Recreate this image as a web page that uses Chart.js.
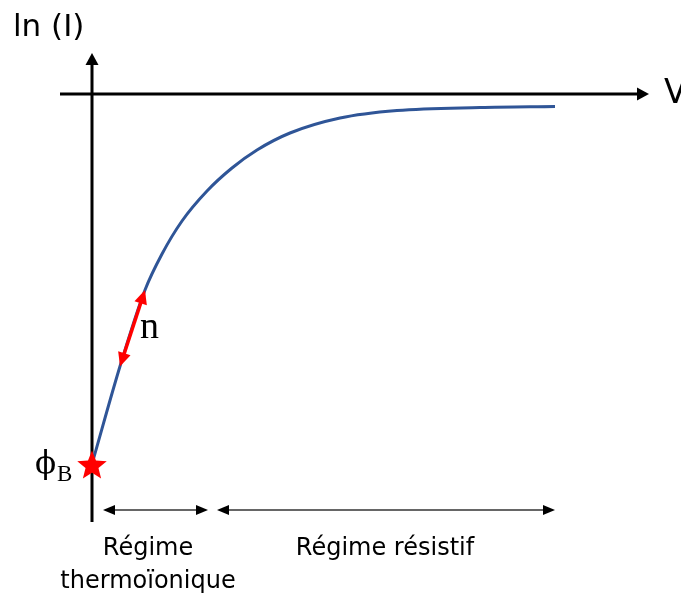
<!DOCTYPE html>
<html>
<head>
<meta charset="utf-8">
<script src="https://cdn.jsdelivr.net/npm/chart.js@4/dist/chart.umd.min.js"></script>
<style>
  html, body { margin: 0; padding: 0; background: #fff; }
  #wrap { width: 681px; height: 598px; }
</style>
</head>
<body>
<div id="wrap"><canvas id="courbe" width="681" height="598"></canvas></div>
<script>
const tensions = [0, 29, 53, 70, 90, 115, 140, 165, 198, 248, 305, 388, 463];
const lnCourant = [-370, -269, -196, -160, -127, -97, -74, -56, -39, -24, -16.5, -13.5, -12.5];

// Régimes : bornes en V et libellés
const regimeDebut = [11, 125];
const regimeFin = [116, 463];
const regimeLabels = [['Régime', 'thermoïonique'], ['Régime résistif']];

// Pente n : entre ces deux tensions
const penteV = [28, 53];

const bleu = '#2F5597';
const rouge = '#FF0000';

function fleche(ctx, x1, y1, x2, y2, long, larg, couleur) {
    // pointe en (x2, y2)
    const a = Math.atan2(y2 - y1, x2 - x1);
    ctx.save();
    ctx.fillStyle = couleur;
    ctx.beginPath();
    ctx.moveTo(x2, y2);
    ctx.lineTo(x2 - long * Math.cos(a) + larg * Math.sin(a), y2 - long * Math.sin(a) - larg * Math.cos(a));
    ctx.lineTo(x2 - long * Math.cos(a) - larg * Math.sin(a), y2 - long * Math.sin(a) + larg * Math.cos(a));
    ctx.closePath();
    ctx.fill();
    ctx.restore();
}

function trait(ctx, x1, y1, x2, y2, w, couleur) {
    ctx.save();
    ctx.strokeStyle = couleur;
    ctx.lineWidth = w;
    ctx.beginPath();
    ctx.moveTo(x1, y1);
    ctx.lineTo(x2, y2);
    ctx.stroke();
    ctx.restore();
}

function etoile(ctx, cx, cy, rExt, rInt, couleur) {
    ctx.save();
    ctx.fillStyle = couleur;
    ctx.beginPath();
    for (let i = 0; i < 10; i++) {
        const r = i % 2 === 0 ? rExt : rInt;
        const a = -Math.PI / 2 + i * Math.PI / 5;
        const px = cx + r * Math.cos(a), py = cy + r * Math.sin(a);
        if (i === 0) ctx.moveTo(px, py); else ctx.lineTo(px, py);
    }
    ctx.closePath();
    ctx.fill();
    ctx.restore();
}

function interpLn(v) {
    for (let i = 0; i < tensions.length - 1; i++) {
        if (v >= tensions[i] && v <= tensions[i + 1]) {
            const t = (v - tensions[i]) / (tensions[i + 1] - tensions[i]);
            return lnCourant[i] + t * (lnCourant[i + 1] - lnCourant[i]);
        }
    }
    return lnCourant[lnCourant.length - 1];
}

const axesPlugin = {
    id: 'axes',
    beforeDatasetsDraw(chart) {
        const ctx = chart.ctx, sx = chart.scales.x, sy = chart.scales.y;
        const x0 = sx.getPixelForValue(0), y0 = sy.getPixelForValue(0);
        // axe vertical ln(I)
        trait(ctx, x0, sy.getPixelForValue(-428), x0, sy.getPixelForValue(30), 3, '#000');
        fleche(ctx, x0, sy.getPixelForValue(-428), x0, sy.getPixelForValue(41), 12, 6.5, '#000');
        // axe horizontal V
        trait(ctx, sx.getPixelForValue(-32), y0, sx.getPixelForValue(546), y0, 3, '#000');
        fleche(ctx, sx.getPixelForValue(-32), y0, sx.getPixelForValue(557), y0, 12, 6.5, '#000');

        ctx.save();
        ctx.fillStyle = '#000';
        ctx.textBaseline = 'alphabetic';
        ctx.textAlign = 'left';
        ctx.font = '31px "DejaVu Sans", sans-serif';
        ctx.fillText('ln (I)', 13, 36);
        ctx.font = '33px "DejaVu Sans", sans-serif';
        ctx.fillText('V', sx.getPixelForValue(572), y0 + 9);
        ctx.restore();
    },
    afterDatasetsDraw(chart) {
        const ctx = chart.ctx, sx = chart.scales.x, sy = chart.scales.y;
        const x0 = sx.getPixelForValue(0);

        // pente n
        const ax = sx.getPixelForValue(penteV[0]), ay = sy.getPixelForValue(interpLn(penteV[0]));
        const bx = sx.getPixelForValue(penteV[1]), by = sy.getPixelForValue(interpLn(penteV[1]));
        const ang = Math.atan2(by - ay, bx - ax);
        const c = Math.cos(ang) * 10, s = Math.sin(ang) * 10;
        trait(ctx, ax + c, ay + s, bx - c, by - s, 3.5, rouge);
        fleche(ctx, bx, by, ax, ay, 14, 6.5, rouge);
        fleche(ctx, ax, ay, bx, by, 14, 6.5, rouge);
        ctx.save();
        ctx.fillStyle = '#000';
        ctx.font = '38px "Liberation Serif", serif';
        ctx.textAlign = 'left';
        ctx.textBaseline = 'alphabetic';
        ctx.fillText('n', 140, 338);

        // phi_B
        ctx.font = '31px "DejaVu Serif", serif';
        ctx.fillText('\u03D5', 35, 473);
        ctx.font = '23px "Liberation Serif", serif';
        ctx.fillText('B', 57, 481);
        ctx.restore();
        etoile(ctx, x0, sy.getPixelForValue(lnCourant[0]) + 2, 15.5, 6.8, rouge);

        // régimes
        const yR = 510;
        ctx.save();
        ctx.fillStyle = '#000';
        ctx.font = '24px "DejaVu Sans", sans-serif';
        ctx.textAlign = 'center';
        ctx.textBaseline = 'alphabetic';
        regimeDebut.forEach((v, i) => {
            const p1 = sx.getPixelForValue(v), p2 = sx.getPixelForValue(regimeFin[i]);
            trait(ctx, p1 + 8, yR, p2 - 8, yR, 1.5, '#333');
            fleche(ctx, p2, yR, p1, yR, 12, 5, '#000');
            fleche(ctx, p1, yR, p2, yR, 12, 5, '#000');
            regimeLabels[i].forEach((l, k) => {
                ctx.fillText(l, i === 0 ? 148 : (p1 + p2) / 2 - 1, 555 + k * 33);
            });
        });
        ctx.restore();
    }
};

new Chart(document.getElementById('courbe'), {
    type: 'line',
    data: {
        datasets: [{
            data: tensions.map((v, i) => ({ x: v, y: lnCourant[i] })),
            borderColor: bleu,
            borderWidth: 3,
            pointRadius: 0,
            cubicInterpolationMode: 'monotone',
            fill: false
        }]
    },
    options: {
        responsive: false,
        animation: false,
        layout: { padding: 0 },
        plugins: { legend: { display: false }, tooltip: { enabled: false } },
        scales: {
            x: { type: 'linear', min: -92, max: 589, display: false },
            y: { type: 'linear', min: -504, max: 94, display: false }
        }
    },
    plugins: [axesPlugin]
});
</script>
</body>
</html>
